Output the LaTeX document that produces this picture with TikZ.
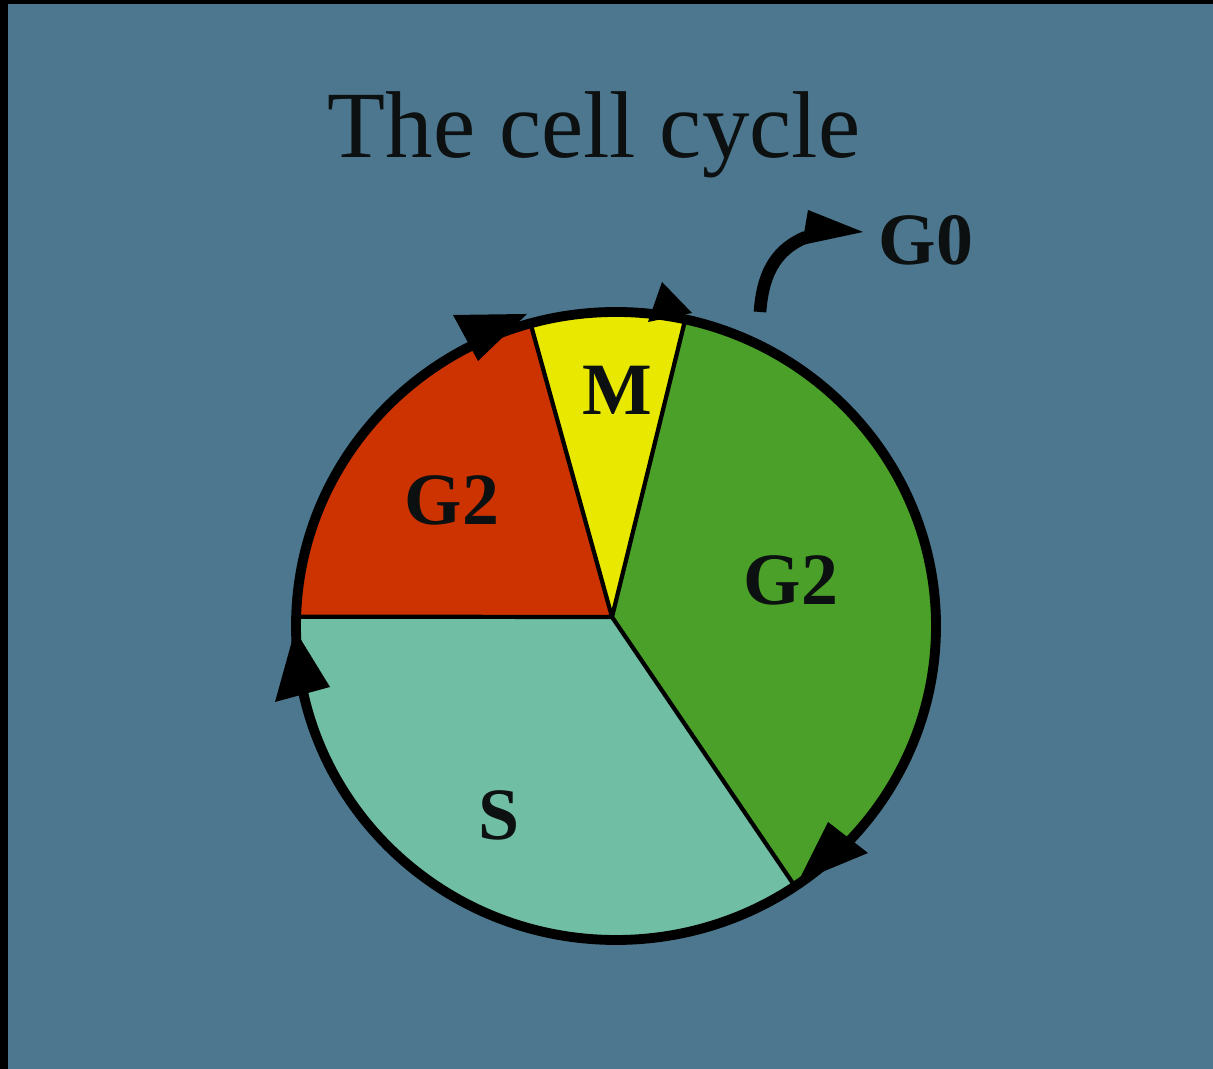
\documentclass[tikz,border=0pt]{standalone}
\usepackage{fontspec}
\setmainfont{Liberation Serif}
\usetikzlibrary{calc}
\definecolor{bgc}{RGB}{76,119,142}
\definecolor{redc}{RGB}{204,51,0}
\definecolor{yelc}{RGB}{232,232,0}
\definecolor{grnc}{RGB}{74,160,40}
\definecolor{tealc}{RGB}{112,190,164}
\definecolor{inkc}{RGB}{12,16,16}
\tikzset{
  divider/.style={draw=black,line width=1.2pt},
  outline/.style={draw=black,line width=2.8pt},
  headfill/.style={fill=black},
  phase/.style={font=\fontsize{21}{24}\selectfont\bfseries,text=inkc,anchor=base,inner sep=0pt},
  titletext/.style={font=\fontsize{27}{30}\selectfont,text=inkc,anchor=base,inner sep=0pt}
}
\begin{document}
\begin{tikzpicture}
\useasboundingbox (0,0) rectangle (12.13,10.69);
\fill[black] (0,0) rectangle (12.13,10.69);
\fill[bgc] (0.08,0) rectangle (12.13,10.65);

\coordinate (P) at (6.12,4.52);
\coordinate (C) at (6.16,4.43);
\coordinate (bL) at ($(C)+(178.3:3.2 and 3.14)$);
\coordinate (bRY) at ($(C)+(105.5:3.2 and 3.14)$);
\coordinate (bYG) at ($(C)+(77.5:3.2 and 3.14)$);
\coordinate (bGS) at ($(C)+(-56:3.2 and 3.14)$);

\fill[redc] (P) -- (bL) arc[start angle=178.3, end angle=105.5, x radius=3.2, y radius=3.14] -- cycle;
\fill[yelc] (P) -- (bRY) arc[start angle=105.5, end angle=77.5, x radius=3.2, y radius=3.14] -- cycle;
\fill[grnc] (P) -- (bYG) arc[start angle=77.5, end angle=-56, x radius=3.2, y radius=3.14] -- cycle;
\fill[tealc] (P) -- (bGS) arc[start angle=-56, end angle=-181.7, x radius=3.2, y radius=3.14] -- cycle;

\draw[divider] (P) -- (bL);
\draw[divider] (P) -- (bRY);
\draw[divider] (P) -- (bYG);
\draw[divider] (P) -- (bGS);
\draw[outline] (C) ellipse [x radius=3.2, y radius=3.14];

% arrowheads on the cycle
\fill[headfill] (2.95,4.39) -- (2.75,3.67) -- (3.30,3.82) -- cycle;
\fill[headfill] (4.53,7.54) -- (5.27,7.55) -- (4.78,7.08) -- cycle;
\fill[headfill] (6.62,7.87) -- (6.92,7.56) -- (6.48,7.47) -- cycle;
\fill[headfill] (8.28,2.47) -- (8.68,2.16) -- (7.98,1.87) -- cycle;

% G0 exit arrow
\coordinate (g0s) at (7.60,7.57);
\coordinate (g0e) at (8.06,8.32);
\draw[black,line width=3.6pt] (g0s) .. controls (7.63,8.01) and (7.80,8.21) .. (g0e);
\fill[headfill] (8.08,8.59) -- (8.63,8.37) -- (8.02,8.24) -- cycle;

\node[titletext] (title) at (5.94,9.11) {The cell cycle};
\node[phase] (m) at (6.17,6.54) {M};
\node[phase] (g2a) at (4.52,5.44) {G2};
\node[phase] (g2b) at (7.91,4.64) {G2};
\node[phase] (s) at (4.99,2.29) {S};
\node[phase] (g0) at (9.26,8.04) {G0};
\end{tikzpicture}
\end{document}
